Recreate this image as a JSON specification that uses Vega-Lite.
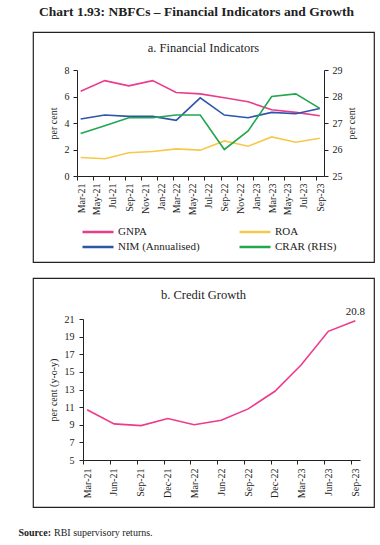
{
  "$schema": "https://vega.github.io/schema/vega-lite/v6.json",
  "padding": {"left": 18, "top": 4, "right": 2, "bottom": 0},
  "background": "white",
  "title": {"text": "Chart 1.93: NBFCs – Financial Indicators and Growth", "anchor": "middle", "frame": "bounds", "font": "Liberation Serif", "fontSize": 13.5, "fontWeight": "bold", "color": "#222", "offset": 13},
  "config": {
    "view": {"stroke": "#222", "strokeWidth": 1.2},
    "axis": {"labelFont": "Liberation Serif", "titleFont": "Liberation Serif", "labelFontSize": 10, "titleFontSize": 10, "titleFontWeight": "normal", "labelColor": "#222", "titleColor": "#222", "domainColor": "#222", "tickColor": "#222", "tickSize": 4, "grid": false},
    "legend": {"labelFont": "Liberation Serif", "labelFontSize": 11, "labelColor": "#222"},
    "title": {"font": "Liberation Serif", "fontSize": 12.5, "fontWeight": "normal", "color": "#222"}
  },
  "datasets": {
    "fin": [
      {"date": "2021-03-15", "series": "GNPA", "value": 6.4},
      {"date": "2021-06-15", "series": "GNPA", "value": 7.2},
      {"date": "2021-09-15", "series": "GNPA", "value": 6.8},
      {"date": "2021-12-15", "series": "GNPA", "value": 7.2},
      {"date": "2022-03-15", "series": "GNPA", "value": 6.3},
      {"date": "2022-06-15", "series": "GNPA", "value": 6.2},
      {"date": "2022-09-15", "series": "GNPA", "value": 5.9},
      {"date": "2022-12-15", "series": "GNPA", "value": 5.6},
      {"date": "2023-03-15", "series": "GNPA", "value": 5.0},
      {"date": "2023-06-15", "series": "GNPA", "value": 4.8},
      {"date": "2023-09-15", "series": "GNPA", "value": 4.55},
      {"date": "2021-03-15", "series": "ROA", "value": 1.4},
      {"date": "2021-06-15", "series": "ROA", "value": 1.3},
      {"date": "2021-09-15", "series": "ROA", "value": 1.75},
      {"date": "2021-12-15", "series": "ROA", "value": 1.85},
      {"date": "2022-03-15", "series": "ROA", "value": 2.05},
      {"date": "2022-06-15", "series": "ROA", "value": 1.95},
      {"date": "2022-09-15", "series": "ROA", "value": 2.65},
      {"date": "2022-12-15", "series": "ROA", "value": 2.25},
      {"date": "2023-03-15", "series": "ROA", "value": 2.95},
      {"date": "2023-06-15", "series": "ROA", "value": 2.55},
      {"date": "2023-09-15", "series": "ROA", "value": 2.85},
      {"date": "2021-03-15", "series": "NIM (Annualised)", "value": 4.3},
      {"date": "2021-06-15", "series": "NIM (Annualised)", "value": 4.6},
      {"date": "2021-09-15", "series": "NIM (Annualised)", "value": 4.5},
      {"date": "2021-12-15", "series": "NIM (Annualised)", "value": 4.5},
      {"date": "2022-03-15", "series": "NIM (Annualised)", "value": 4.2},
      {"date": "2022-06-15", "series": "NIM (Annualised)", "value": 5.9},
      {"date": "2022-09-15", "series": "NIM (Annualised)", "value": 4.6},
      {"date": "2022-12-15", "series": "NIM (Annualised)", "value": 4.4},
      {"date": "2023-03-15", "series": "NIM (Annualised)", "value": 4.8},
      {"date": "2023-06-15", "series": "NIM (Annualised)", "value": 4.7},
      {"date": "2023-09-15", "series": "NIM (Annualised)", "value": 5.1},
      {"date": "2021-03-15", "series": "CRAR (RHS)", "value": 26.6},
      {"date": "2021-06-15", "series": "CRAR (RHS)", "value": 26.9},
      {"date": "2021-09-15", "series": "CRAR (RHS)", "value": 27.2},
      {"date": "2021-12-15", "series": "CRAR (RHS)", "value": 27.2},
      {"date": "2022-03-15", "series": "CRAR (RHS)", "value": 27.3},
      {"date": "2022-06-15", "series": "CRAR (RHS)", "value": 27.3},
      {"date": "2022-09-15", "series": "CRAR (RHS)", "value": 26.0},
      {"date": "2022-12-15", "series": "CRAR (RHS)", "value": 26.7},
      {"date": "2023-03-15", "series": "CRAR (RHS)", "value": 28.0},
      {"date": "2023-06-15", "series": "CRAR (RHS)", "value": 28.1},
      {"date": "2023-09-15", "series": "CRAR (RHS)", "value": 27.55}
    ],
    "credit": [
      {"date": "2021-03-15", "growth": 10.7},
      {"date": "2021-06-15", "growth": 9.1},
      {"date": "2021-09-15", "growth": 8.9},
      {"date": "2021-12-15", "growth": 9.7},
      {"date": "2022-03-15", "growth": 9.0},
      {"date": "2022-06-15", "growth": 9.5},
      {"date": "2022-09-15", "growth": 10.8},
      {"date": "2022-12-15", "growth": 12.8},
      {"date": "2023-03-15", "growth": 15.8},
      {"date": "2023-06-15", "growth": 19.6},
      {"date": "2023-09-15", "growth": 20.8, "label": "20.8"}
    ],
    "note": [{"a": "Source:", "b": "RBI supervisory returns."}]
  },
  "vconcat": [
    {
      "width": 341,
      "height": 230,
      "title": {"text": "a. Financial Indicators", "offset": -22},
      "data": {"name": "fin"},
      "encoding": {
        "x": {
          "field": "date", "type": "temporal",
          "scale": {"type": "utc", "domain": [{"year": 2021, "month": 3, "date": 1, "utc": true}, {"year": 2023, "month": 10, "date": 1, "utc": true}], "range": [44, 291]},
          "axis": {
            "orient": "bottom", "offset": -86, "title": null, "labelAngle": -90, "labelOffset": 4, "labelPadding": 3,
            "labelExpr": "utcFormat(datum.value, '%b-%y')",
            "values": [
              {"year": 2021, "month": 3, "date": 1, "utc": true}, {"year": 2021, "month": 5, "date": 1, "utc": true},
              {"year": 2021, "month": 7, "date": 1, "utc": true}, {"year": 2021, "month": 9, "date": 1, "utc": true},
              {"year": 2021, "month": 11, "date": 1, "utc": true}, {"year": 2022, "month": 1, "date": 1, "utc": true},
              {"year": 2022, "month": 3, "date": 1, "utc": true}, {"year": 2022, "month": 5, "date": 1, "utc": true},
              {"year": 2022, "month": 7, "date": 1, "utc": true}, {"year": 2022, "month": 9, "date": 1, "utc": true},
              {"year": 2022, "month": 11, "date": 1, "utc": true}, {"year": 2023, "month": 1, "date": 1, "utc": true},
              {"year": 2023, "month": 3, "date": 1, "utc": true}, {"year": 2023, "month": 5, "date": 1, "utc": true},
              {"year": 2023, "month": 7, "date": 1, "utc": true}, {"year": 2023, "month": 9, "date": 1, "utc": true}
            ]
          }
        },
        "color": {
          "field": "series", "type": "nominal",
          "scale": {"domain": ["GNPA", "ROA", "NIM (Annualised)", "CRAR (RHS)"], "range": ["#ea3c8d", "#f6c94a", "#2c56a8", "#22a650"]},
          "legend": {"title": null, "orient": "none", "legendX": 48, "legendY": 194, "direction": "horizontal", "columns": 2, "columnPadding": 38, "rowPadding": 3, "padding": 0, "symbolType": "stroke", "symbolSize": 961, "symbolStrokeWidth": 2.5, "clipHeight": 12, "labelOffset": 3}
        }
      },
      "layer": [
        {
          "transform": [{"filter": "datum.series !== 'CRAR (RHS)'"}],
          "mark": {"type": "line", "strokeWidth": 1.6},
          "encoding": {
            "y": {"field": "value", "type": "quantitative", "scale": {"domain": [0, 8], "range": [144, 38]},
              "axis": {"orient": "left", "offset": -44, "values": [0, 2, 4, 6, 8], "title": "per cent", "labelPadding": 4, "titlePadding": 6}}
          }
        },
        {
          "transform": [{"filter": "datum.series === 'CRAR (RHS)'"}],
          "mark": {"type": "line", "strokeWidth": 1.6},
          "encoding": {
            "y": {"field": "value", "type": "quantitative", "scale": {"domain": [25, 29], "range": [144, 38]},
              "axis": {"orient": "right", "offset": -50, "values": [25, 26, 27, 28, 29], "title": "per cent", "titleAngle": 270, "titleBaseline": "top", "labelPadding": 4, "titlePadding": 4}}
          }
        }
      ],
      "resolve": {"scale": {"y": "independent"}}
    },
    {
      "width": 341,
      "height": 229,
      "title": {"text": "b. Credit Growth", "offset": -23},
      "data": {"name": "credit"},
      "encoding": {
        "x": {
          "field": "date", "type": "temporal",
          "scale": {"type": "utc", "domain": [{"year": 2021, "month": 3, "date": 1, "utc": true}, {"year": 2023, "month": 10, "date": 1, "utc": true}], "range": [50, 327]},
          "axis": {
            "orient": "bottom", "offset": -47, "title": null, "labelAngle": -90, "labelOffset": 4, "labelPadding": 4,
            "labelExpr": "utcFormat(datum.value, '%b-%y')",
            "values": [
              {"year": 2021, "month": 3, "date": 1, "utc": true}, {"year": 2021, "month": 6, "date": 1, "utc": true},
              {"year": 2021, "month": 9, "date": 1, "utc": true}, {"year": 2021, "month": 12, "date": 1, "utc": true},
              {"year": 2022, "month": 3, "date": 1, "utc": true}, {"year": 2022, "month": 6, "date": 1, "utc": true},
              {"year": 2022, "month": 9, "date": 1, "utc": true}, {"year": 2022, "month": 12, "date": 1, "utc": true},
              {"year": 2023, "month": 3, "date": 1, "utc": true}, {"year": 2023, "month": 6, "date": 1, "utc": true},
              {"year": 2023, "month": 9, "date": 1, "utc": true}
            ]
          }
        },
        "y": {"field": "growth", "type": "quantitative", "scale": {"domain": [5, 21], "range": [182, 41]},
          "axis": {"orient": "left", "offset": -50, "values": [5, 7, 9, 11, 13, 15, 17, 19, 21], "title": "per cent (y-o-y)", "labelPadding": 5, "titlePadding": 6}}
      },
      "layer": [
        {"mark": {"type": "line", "color": "#ee3a8c", "strokeWidth": 1.6}},
        {"transform": [{"filter": "isValid(datum.label)"}],
         "mark": {"type": "text", "dy": -9, "font": "Liberation Serif", "fontSize": 11, "color": "#222"},
         "encoding": {"text": {"field": "label"}}}
      ]
    },
    {
      "width": 36,
      "height": 22,
      "view": {"stroke": null},
      "data": {"name": "note"},
      "layer": [
        {"mark": {"type": "text", "align": "right", "baseline": "middle", "font": "Liberation Serif", "fontSize": 10, "fontWeight": "bold", "color": "#222"},
         "encoding": {"text": {"field": "a"}}},
        {"mark": {"type": "text", "align": "left", "baseline": "middle", "dx": 3, "font": "Liberation Serif", "fontSize": 10, "color": "#222"},
         "encoding": {"text": {"field": "b"}}}
      ]
    }
  ],
  "spacing": 14
}
